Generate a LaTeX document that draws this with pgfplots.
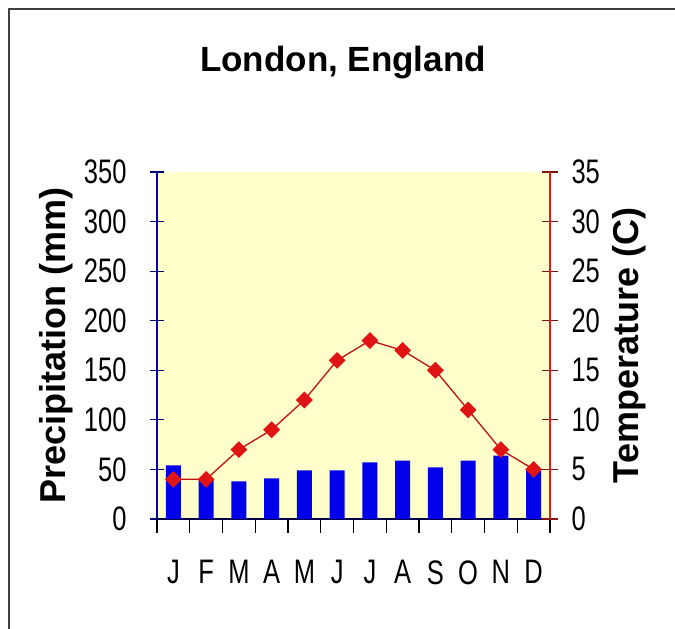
\documentclass[border=0pt]{standalone}
\usepackage{pgfplots}
\pgfplotsset{compat=1.18}
\usepackage{fontspec}
\setmainfont{Liberation Sans}
\newfontfamily\narrowsf[FakeStretch=0.75]{Liberation Sans}
\definecolor{plotbg}{RGB}{255,255,204}
\definecolor{barblue}{RGB}{0,0,235}
\definecolor{leftaxis}{RGB}{0,0,170}
\definecolor{rightaxis}{RGB}{215,30,30}
\definecolor{tempred}{RGB}{225,20,20}

\pgfplotsset{
  climate/.style={
    scale only axis, width=393pt, height=347pt,
    at={(157pt,110pt)}, anchor=south west,
    xmin=-0.5, xmax=11.5,
    axis line style={-},
    /pgf/number format/assume math mode=true,
    tick label style={font=\narrowsf\fontsize{34}{34}\selectfont},
  }
}

\begin{document}
\begin{tikzpicture}
\useasboundingbox (0pt,0pt) rectangle (675pt,629pt);
\draw[line width=2pt, black!75] (9pt,0pt) -- (9pt,620pt) -- (675pt,620pt);
\node[font=\bfseries\fontsize{35}{35}\selectfont] at (343pt,566pt) {London, England};

% background only
\begin{axis}[climate, hide axis, ymin=0, ymax=350,
  axis background/.style={fill=plotbg}]
\addplot[draw=none] coordinates {(0,0)};
\end{axis}

% precipitation, with the month axis
\begin{axis}[climate,
  axis x line*=bottom, axis y line*=left,
  ymin=0, ymax=350, ytick={0,50,...,350},
  xtick={-0.5,0.5,...,11.5},
  xticklabels={J,F,M,A,M,J,J,A,S,O,N,D,{}},
  tick align=outside, major tick length=14pt,
  x tick style={black, line width=1.2pt},
  x axis line style={leftaxis!40!black, line width=2pt},
  x tick label style={xshift=16.4pt, yshift=-24pt},
  y axis line style={leftaxis, line width=1.5pt},
  ytick style={leftaxis!60!black, line width=1.2pt, xshift=7pt},
  yticklabel style={xshift=-13pt},
  ylabel={Precipitation (mm)},
  ylabel shift=4pt,
  ylabel style={font=\bfseries\fontsize{36}{36}\selectfont},
]
\addplot[ybar, bar width=15pt, fill=barblue, draw=none] coordinates {
  (0,54) (1,40) (2,38) (3,41) (4,49) (5,49)
  (6,57) (7,59) (8,52) (9,59) (10,64) (11,50)
};
\end{axis}

% temperature
\begin{axis}[climate,
  axis x line=none, axis y line*=right,
  ymin=0, ymax=35, ytick={0,5,...,35},
  tick align=center, major tick length=16pt,
  y axis line style={rightaxis, line width=1.5pt},
  ytick style={rightaxis!60!black, line width=1.2pt},
  yticklabel style={xshift=10pt},
  ylabel={Temperature (C)},
  ylabel shift=6pt,
  ylabel style={font=\bfseries\fontsize{36}{36}\selectfont},
  clip=false,
]
\addplot[tempred!85!black, line width=1.3pt, mark=square*,
  mark size=5.3pt, mark options={rotate=45, fill=tempred, draw=tempred}] coordinates {
  (0,4) (1,4) (2,7) (3,9) (4,12) (5,16)
  (6,18) (7,17) (8,15) (9,11) (10,7) (11,5)
};
\end{axis}
\end{tikzpicture}
\end{document}
